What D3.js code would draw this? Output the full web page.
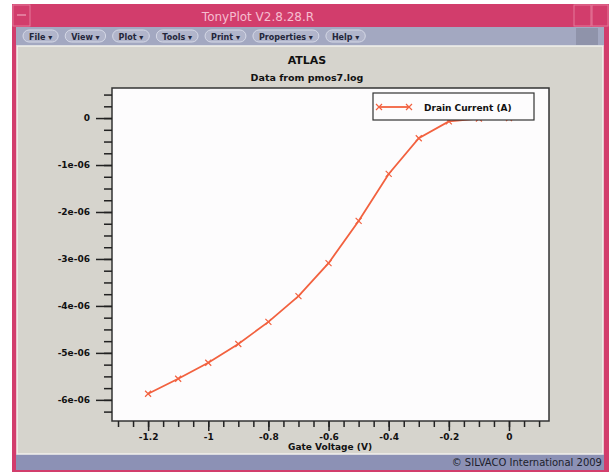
<!DOCTYPE html>
<html>
<head>
<meta charset="utf-8">
<script src="https://cdn.jsdelivr.net/npm/d3@7"></script>
<style>
  body { margin: 0; background: #fff; }
  svg text { font-family: "DejaVu Sans", sans-serif; }
</style>
</head>
<body>
<div id="chart"></div>
<script>
// Data
const gateVoltage = [-1.2, -1.1, -1.0, -0.9, -0.8, -0.7, -0.6, -0.5, -0.4, -0.3, -0.2, -0.1, 0];
const drainCurrent = [-5.87e-6, -5.55e-6, -5.21e-6, -4.81e-6, -4.34e-6, -3.79e-6, -3.09e-6,
                      -2.19e-6, -1.19e-6, -0.43e-6, -0.07e-6, -0.01e-6, 0];
const xTicks = [-1.2, -1, -0.8, -0.6, -0.4, -0.2, 0];
const xTickLabels = ['-1.2', '-1', '-0.8', '-0.6', '-0.4', '-0.2', '0'];
const yTicks = [0, -1e-6, -2e-6, -3e-6, -4e-6, -5e-6, -6e-6];
const yTickLabels = ['0', '-1e-06', '-2e-06', '-3e-06', '-4e-06', '-5e-06', '-6e-06'];
const menuItems = ['File', 'View', 'Plot', 'Tools', 'Print', 'Properties', 'Help'];

const W = 613, H = 472;
const svg = d3.select('#chart').append('svg')
    .attr('width', W).attr('height', H);

// window frame
svg.append('rect').attr('x', 12).attr('y', 4).attr('width', 597).attr('height', 468).attr('fill', '#d23d6c');
svg.append('rect').attr('x', 16).attr('y', 27).attr('width', 588).attr('height', 19).attr('fill', '#a3a8c1');
svg.append('rect').attr('x', 576).attr('y', 28).attr('width', 22).attr('height', 17).attr('fill', '#8f93aa');
svg.append('rect').attr('x', 16).attr('y', 454).attr('width', 588).attr('height', 16).attr('fill', '#8c91b5');
svg.append('rect').attr('x', 17).attr('y', 46).attr('width', 586).attr('height', 408)
    .attr('fill', '#d6d4cd').attr('stroke', '#f2f1ec').attr('stroke-width', 1.5);

// title bar buttons
svg.append('rect').attr('x', 13).attr('y', 5).attr('width', 17).attr('height', 21)
    .attr('fill', 'none').attr('stroke', '#e47a9a');
svg.append('line').attr('x1', 17).attr('x2', 26).attr('y1', 15).attr('y2', 15).attr('stroke', '#f3b8ca');
svg.append('rect').attr('x', 574).attr('y', 5).attr('width', 17).attr('height', 21)
    .attr('fill', 'none').attr('stroke', '#e47a9a');
svg.append('rect').attr('x', 592).attr('y', 5).attr('width', 16).attr('height', 21)
    .attr('fill', 'none').attr('stroke', '#e47a9a');

svg.append('text').attr('x', 258).attr('y', 21).attr('text-anchor', 'middle')
    .attr('fill', '#f6bdd0').style('font-size', '12px').text('TonyPlot V2.8.28.R');

// menu buttons
let mx = 23;
menuItems.forEach(m => {
    const g = svg.append('g');
    const rect = g.append('rect').attr('x', mx).attr('y', 30).attr('height', 12).attr('rx', 6)
        .attr('fill', '#b1b5cb').attr('stroke', '#d5d8e6');
    const t = g.append('text').attr('x', mx + 6).attr('y', 39.5).attr('fill', '#23263a')
        .style('font-size', '8px').style('font-weight', 'bold').text(m + ' \u25BE');
    const w = t.node().getComputedTextLength() + 12;
    rect.attr('width', w);
    mx += w + 7;
});

svg.append('text').attr('x', 602).attr('y', 466).attr('text-anchor', 'end')
    .attr('fill', '#1c1e2c').style('font-size', '10px').text('\u00A9 SILVACO International 2009');

// plot
const x = d3.scaleLinear().domain([-1.32, 0.133]).range([112, 549]);
const y = d3.scaleLinear().domain([0.64e-6, -6.45e-6]).range([88, 421]);

svg.append('rect').attr('x', 112).attr('y', 88).attr('width', 437).attr('height', 333)
    .attr('fill', '#fdfcfd').attr('stroke', '#333').attr('stroke-width', 1.5);

const xMinor = d3.range(-1.3, 0.11, 0.05).map(v => +v.toFixed(2));
const yMinor = d3.range(0.5e-6, -6.3e-6, -0.25e-6);

function styleAxis(g) {
    g.select('.domain').remove();
    g.selectAll('line').attr('stroke', '#222').attr('stroke-width', 1.5);
    g.selectAll('text').attr('fill', '#111').style('font-size', '9px').style('font-weight', 'bold')
        .style('font-family', '"DejaVu Sans", sans-serif');
}

svg.append('g').attr('transform', 'translate(0,421)')
    .call(d3.axisBottom(x).tickValues(xMinor).tickSize(6).tickFormat(''))
    .call(styleAxis);
svg.append('g').attr('transform', 'translate(0,421)')
    .call(d3.axisBottom(x).tickValues(xTicks).tickSize(10).tickPadding(3)
        .tickFormat((d, i) => xTickLabels[i]))
    .call(styleAxis);

svg.append('g').attr('transform', 'translate(112,0)')
    .call(d3.axisLeft(y).tickValues(yMinor).tickSize(8).tickFormat(''))
    .call(styleAxis);
svg.append('g').attr('transform', 'translate(112,0)')
    .call(d3.axisLeft(y).tickValues(yTicks).tickSize(16).tickPadding(6)
        .tickFormat((d, i) => yTickLabels[i]))
    .call(styleAxis);

svg.append('text').attr('x', 330).attr('y', 450).attr('text-anchor', 'middle')
    .attr('fill', '#111').style('font-size', '9px').style('font-weight', 'bold').text('Gate Voltage (V)');
svg.append('text').attr('x', 307).attr('y', 64).attr('text-anchor', 'middle')
    .attr('fill', '#111').style('font-size', '11px').style('font-weight', 'bold').text('ATLAS');
svg.append('text').attr('x', 307).attr('y', 81).attr('text-anchor', 'middle')
    .attr('fill', '#111').style('font-size', '9.5px').style('font-weight', 'bold').text('Data from pmos7.log');

const lineColor = '#f2613f';
const pts = gateVoltage.map((v, i) => [v, drainCurrent[i]]);

svg.append('path').datum(pts)
    .attr('fill', 'none').attr('stroke', lineColor).attr('stroke-width', 1.8)
    .attr('d', d3.line().x(d => x(d[0])).y(d => y(d[1])));

function marker(g, cx, cy) {
    g.append('path').attr('d', `M${cx - 3},${cy - 3}L${cx + 3},${cy + 3}M${cx - 3},${cy + 3}L${cx + 3},${cy - 3}`)
        .attr('stroke', lineColor).attr('stroke-width', 1.2);
}
const mk = svg.append('g');
pts.forEach(d => marker(mk, x(d[0]), y(d[1])));

// legend
svg.append('rect').attr('x', 373).attr('y', 93).attr('width', 161).attr('height', 27)
    .attr('fill', '#fdfcfd').attr('stroke', '#333').attr('stroke-width', 1.2);
svg.append('line').attr('x1', 378).attr('x2', 410).attr('y1', 107).attr('y2', 107)
    .attr('stroke', lineColor).attr('stroke-width', 1.8);
marker(svg, 379, 107);
marker(svg, 409, 107);
svg.append('text').attr('x', 424).attr('y', 110.5).attr('fill', '#111')
    .style('font-size', '9px').style('font-weight', 'bold').text('Drain Current (A)');
</script>
</body>
</html>
